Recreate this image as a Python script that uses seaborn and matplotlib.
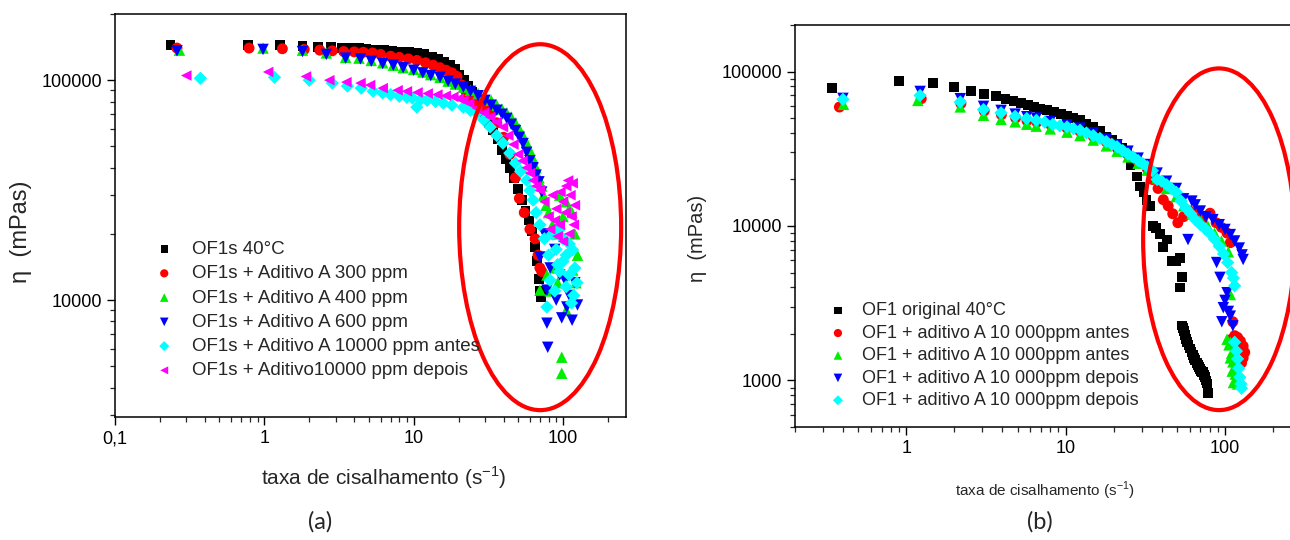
import matplotlib
matplotlib.use("Agg")
import matplotlib.pyplot as plt
import seaborn as sns
from matplotlib.patches import Ellipse
from matplotlib.ticker import FixedLocator, FixedFormatter, LogLocator, NullFormatter

# ---------------- data : panel (a) ----------------
a_black_x = [0.235, 0.78, 1.28, 1.8, 2.3, 2.8, 3.3, 3.8, 4.3, 4.8,
             5.5, 6.3, 7.2, 8.2, 9.3, 10.5, 11.8, 13.2, 14.6, 16.0,
             17.4, 18.8, 20.2, 21.6, 23.0, 24.6, 26.2, 28.0, 30.0, 32.0,
             34.0, 36.5, 39.0, 41.5, 44.0, 47.0, 50.0, 53.0, 56.0, 59.0,
             62.0, 65.0, 67.0, 69.0, 70.0, 71.0]
a_black_y = [144000, 144000, 144000, 143000, 142000, 141000, 140500, 140000, 139500, 139000,
             138000, 137000, 136000, 135000, 134000, 133000, 131000, 128000, 125000, 121000,
             117000, 112000, 106000, 100000, 94000, 88000, 82000, 76000, 70000, 64000,
             59000, 54000, 48000, 44000, 40000, 36000, 32000, 28500, 25500, 23000,
             20500, 17500, 15000, 12500, 11000, 10300]

a_red_x = [0.26, 0.79, 1.32, 1.85, 2.35, 2.85, 3.4, 4.0, 4.6, 5.3,
           6.0, 7.0, 8.0, 9.2, 10.5, 12.0, 13.5, 15.0, 16.5, 18.0,
           19.5, 21.0, 22.5, 24.0, 26.0, 28.0, 30.5, 33.0, 36.0, 40.0,
           44.0, 48.0, 51.0, 55.0, 60.0, 65.0, 68.0, 70.0, 72.0]
a_red_y = [140000, 140000, 139000, 138000, 137000, 136000, 135000, 134500, 134000, 133000,
           131000, 128500, 127000, 125000, 123000, 120000, 117000, 114000, 111000, 108000,
           104000, 95000, 88000, 83000, 80000, 78000, 75000, 71000, 64000, 55000,
           46000, 36000, 29000, 25000, 21000, 19000, 16000, 14000, 13500]

a_green_x = [0.27, 0.98, 1.8, 2.6, 3.5, 4.3, 5.2, 6.2, 7.3, 8.5,
             10.0, 11.5, 13.0, 15.0, 17.0, 19.0, 21.5, 24.0, 27.0, 30.0,
             33.0, 36.0, 39.0, 42.0, 45.0, 48.0, 51.0, 54.0, 57.0, 60.0,
             63.0, 66.0, 69.0, 72.0, 74.0, 77.0,
             80, 85, 90, 95, 100, 105, 110, 115, 120, 125,
             78, 82, 88, 92, 98, 98, 70, 116, 105, 122]
a_green_y = [137000, 140000, 137000, 133000, 127000, 126000, 123000, 120000, 117000, 114000,
             112000, 109000, 106000, 103000, 99000, 96000, 93000, 90000, 87000, 84500,
             81000, 77000, 74000, 71000, 68000, 64000, 60000, 56000, 52000, 48000,
             44000, 40000, 36000, 33000, 30000, 27000,
             25000, 22000, 20000, 30000, 24000, 28000, 26000, 25000, 20000, 16000,
             13000, 11000, 14000, 12000, 5500, 4650, 11100, 13700, 9000, 12000]

a_blue_x = [0.26, 0.98, 1.8, 2.6, 3.5, 4.4, 5.2, 6.2, 7.3, 8.5,
            10.0, 11.5, 13.0, 15.0, 17.0, 19.0, 21.5, 24.0, 27.0, 30.0,
            33.0, 36.0, 39.0, 42.0, 45.0, 48.0, 51.0, 54.0, 57.0, 60.0,
            63.0, 66.0, 69.0, 72.0,
            70, 75, 78, 82, 88, 95, 103, 106, 98, 115,
            78, 79, 110, 120, 125, 90]
a_blue_y = [136000, 138000, 135000, 131000, 126000, 125000, 122000, 119000, 117000, 114000,
            111000, 108000, 105000, 103000, 99000, 96000, 93000, 89000, 85000, 81000,
            77000, 73000, 70000, 67000, 63000, 59000, 55000, 51500, 47000, 43000,
            40000, 37000, 34500, 31000,
            15700, 20000, 11100, 14000, 17000, 13000, 12300, 9300, 8300, 8100,
            7850, 6100, 10500, 12000, 9500, 10000]

a_cyan_x = [0.373, 1.17, 2.0, 2.85, 3.6, 4.45, 5.35, 6.2, 7.0, 8.0,
            9.0, 9.8, 10.5, 11.2, 12.3, 14.0, 15.8, 18.0, 21.5, 24.0,
            26.6, 29.5, 32.5, 36.0, 39.6, 44.0, 48.0, 52.0, 57.0, 60.0,
            63.0, 66.0,
            70, 75, 80, 85, 90, 95, 100, 105, 110, 116,
            120, 124, 78, 82, 88, 95, 105, 114, 100, 92,
            110, 118]
a_cyan_y = [102000, 103000, 100000, 97000, 94000, 92000, 89000, 87500, 86000, 84500,
            83500, 83000, 75400, 82000, 81000, 80000, 78600, 77000, 75400, 73000,
            70800, 66000, 61200, 56000, 51700, 46600, 42000, 38500, 35100, 31500,
            28500, 25000,
            22000, 19000, 16000, 20000, 17000, 21000, 19000, 16000, 18000, 16900,
            14000, 12000, 9300, 12300, 11000, 13500, 11500, 9700, 15000, 14500,
            13000, 10500]

a_mag_x = [0.30, 1.06, 1.9, 2.72, 3.54, 4.4, 5.1, 6.2, 7.8, 9.0,
           10.6, 12.4, 14.4, 16.4, 18.4, 20.0, 21.5, 23.5, 26.5, 29.5,
           32.5, 36.0, 39.6, 43.0, 46.5, 50.0, 53.5, 57.0, 60.0, 63.0,
           66.0, 70.0,
           75, 80, 85, 90, 95, 100, 105, 108, 112, 116,
           120, 118, 110, 100, 92, 88, 82, 96, 104, 114]
a_mag_y = [105000, 109000, 104000, 100000, 98000, 97000, 95000, 92000, 90000, 89000,
           88000, 87000, 86000, 85000, 84000, 82500, 81000, 78500, 74600, 71000,
           67900, 64500, 61200, 56000, 51000, 46000, 43000, 40000, 37800, 35000,
           33000, 31600,
           28000, 24000, 30000, 26000, 22000, 28000, 33000, 35000, 30000, 34000,
           27000, 22000, 20000, 18500, 19500, 23000, 21000, 31000, 25000, 24000]

a_labels = ["OF1s 40°C", "OF1s + Aditivo A 300 ppm", "OF1s + Aditivo A 400 ppm",
            "OF1s + Aditivo A 600 ppm", "OF1s + Aditivo A 10000 ppm antes",
            "OF1s + Aditivo10000 ppm depois"]

# ---------------- data : panel (b) ----------------
b_black_x = [0.342, 0.895, 1.47, 2.0, 2.56, 3.08, 3.67, 4.19, 4.71, 5.26,
             5.77, 6.3, 6.9, 7.6, 8.4, 9.3, 10.2, 11.2, 12.3, 13.5,
             14.9, 16.4, 18.0, 19.5, 20.9, 22.5, 24.2, 25.5, 26.5, 27.9,
             29.3, 30.8, 32.2, 33.9, 35.5, 37.0, 39.0, 40.7, 43.0, 46.4,
             49.0, 52.0, 53.5, 52.5, 53.5, 54.2, 55.0, 56.0, 57.2, 58.0,
             59.0, 60.3, 61.6, 62.8, 64.0, 65.2, 66.5, 67.8, 69.0, 70.0,
             71.0, 72.0, 73.0, 74.0, 75.0, 76.0, 76.7, 77.6, 78.6]
b_black_y = [78500, 86600, 84000, 79000, 74700, 71900, 69000, 66700, 64400, 62500,
             60700, 59000, 57500, 56000, 54700, 53000, 51300, 49800, 48300, 46000,
             43800, 41000, 37700, 36000, 34200, 32000, 30200, 24800, 26700, 20900,
             18000, 16500, 14800, 13400, 10000, 9700, 8900, 7300, 8170, 5900,
             5900, 6200, 4650, 4000, 2270, 2180, 2100, 1980, 1850, 1780,
             1700, 1610, 1520, 1460, 1400, 1350, 1300, 1260, 1220, 1190,
             1150, 1140, 1130, 1090, 1050, 1000, 955, 890, 830]

b_red_x = [0.38, 1.24, 2.2, 3.08, 3.95, 4.85, 5.72, 6.6, 8.0, 10.2,
           12.3, 14.9, 18.0, 21.0, 24.6, 28.5, 32.5, 35.0, 38.0, 41.0,
           44.0, 47.0, 50.6, 55.0, 60.0, 66.0, 72.0, 80.5, 88.0, 95.0,
           103.0, 108.0, 112.0, 110.0, 115.0, 120.0, 125.0, 130.0, 133.0, 130.0,
           127.0]
b_red_y = [58900, 66700, 62000, 55500, 52500, 50000, 48000, 47000, 45500, 43000,
           41000, 38000, 35000, 32000, 29000, 26000, 23500, 20000, 17500, 14800,
           13500, 12000, 10500, 11500, 12500, 12100, 11000, 12100, 10500, 9800,
           9000, 7800, 2400, 1850, 1950, 1900, 1800, 1670, 1520, 1400,
           1300]

b_green_x = [0.403, 1.18, 2.18, 3.05, 3.93, 4.82, 5.7, 6.53, 8.0, 10.2,
             12.3, 14.9, 18.0, 21.0, 24.6, 28.5, 32.5, 37.5, 43.0, 49.4,
             55.0, 62.0, 70.0, 78.0, 86.0, 95.0, 105.0, 103.0, 106.0, 108.0,
             110.0, 112.0, 114.0, 116.0, 118.0, 120.0, 108.0, 111.0, 113.0, 108.0]
b_green_y = [61300, 65000, 59000, 52100, 49000, 47200, 45600, 44300, 42500, 40500,
             38500, 36000, 33000, 30500, 28000, 25500, 23000, 20500, 17500, 15500,
             13500, 12000, 11000, 10000, 9000, 8000, 6800, 1850, 1700, 1770,
             1500, 1320, 1200, 1100, 1000, 950, 1400, 1150, 970, 3600]

b_blue_x = [0.40, 1.22, 2.18, 3.05, 3.93, 4.82, 5.7, 6.55, 8.0, 10.2,
            12.3, 14.9, 18.0, 21.0, 24.6, 28.5, 32.5, 37.5, 43.0, 49.5,
            55.0, 58.6, 62.0, 65.0, 70.0, 76.0, 84.0, 92.0, 100.0, 108.0,
            115.0, 123.0, 128.0, 130.0, 88.6, 93.0, 97.6, 103.0, 95.5, 108.0,
            100.0, 105.0, 112.0]
b_blue_y = [67000, 74300, 66700, 59500, 56000, 53000, 51000, 50000, 47500, 45000,
            43000, 40000, 36500, 33500, 30500, 27500, 25000, 22000, 19500, 17500,
            15000, 8170, 14500, 13700, 12500, 11500, 11000, 10200, 9500, 8800,
            8000, 7200, 6500, 6070, 5800, 4650, 2960, 3700, 2400, 2610,
            3300, 2800, 2260]

b_cyan_x = [0.40, 1.22, 2.18, 3.05, 3.93, 4.82, 5.7, 6.55, 7.4, 8.3,
            9.2, 10.2, 11.2, 12.3, 13.5, 14.9, 16.4, 18.0, 19.5, 21.0,
            22.8, 24.6, 26.5, 28.5, 30.5, 32.5, 35.0, 37.5, 40.0, 43.0,
            46.0, 49.5, 53.0, 57.0, 61.0, 65.0, 70.0, 75.0, 80.0, 86.0,
            92.0, 98.0, 104.0, 110.0, 113.0, 115.0, 115.0, 118.0, 120.0, 122.0,
            124.0, 126.0, 127.0]
b_cyan_y = [66000, 70000, 63500, 56700, 54000, 51300, 49600, 48300, 47000, 45500,
            44500, 43800, 42700, 41700, 40000, 38500, 36900, 35200, 33800, 32600,
            30800, 29200, 28000, 26500, 25300, 24200, 22800, 20000, 19500, 18500,
            17500, 16500, 14500, 13000, 12000, 11000, 10200, 9600, 9000, 8200,
            7400, 6600, 5800, 5000, 4600, 4100, 1770, 1550, 1380, 1200,
            1050, 950, 890]

b_labels = ["OF1 original 40°C", "OF1 + aditivo A 10 000ppm antes",
            "OF1 + aditivo A 10 000ppm antes", "OF1 + aditivo A 10 000ppm depois",
            "OF1 + aditivo A 10 000ppm depois"]

a_xticks = [0.1, 1, 10, 100]
a_xticklabels = ["0,1", "1", "10", "100"]
a_yticks = [10000, 100000]
b_xticks = [1, 10, 100]
b_yticks = [1000, 10000, 100000]

# ---------------- style ----------------
sns.set_theme(style="ticks")
plt.rcParams["font.family"] = ["Liberation Sans", "DejaVu Sans"]
plt.rcParams["axes.linewidth"] = 1.1

W, H = 1290, 540
fig = plt.figure(figsize=(W / 100, H / 100), dpi=100)
ax1 = fig.add_axes([115 / W, 1 - 417 / H, 511 / W, 403 / H])
ax2 = fig.add_axes([795 / W, 1 - 427 / H, 506 / W, 402 / H])

styles = [("s", "#000000", 50), ("o", "#ff0000", 62), ("^", "#00ee00", 68),
          ("v", "#0000ff", 68), ("D", "#00ffff", 46), ("<", "#ff00ff", 58)]

a_series = [(a_black_x, a_black_y), (a_red_x, a_red_y), (a_green_x, a_green_y),
            (a_blue_x, a_blue_y), (a_cyan_x, a_cyan_y), (a_mag_x, a_mag_y)]
b_series = [(b_black_x, b_black_y), (b_red_x, b_red_y), (b_green_x, b_green_y),
            (b_blue_x, b_blue_y), (b_cyan_x, b_cyan_y)]

for (xs, ys), lab, (m, c, s) in zip(a_series, a_labels, styles):
    sns.scatterplot(x=xs, y=ys, ax=ax1, marker=m, color=c, s=s,
                    linewidth=0, edgecolor="none", label=lab)
for (xs, ys), lab, (m, c, s) in zip(b_series, b_labels, styles):
    sns.scatterplot(x=xs, y=ys, ax=ax2, marker=m, color=c, s=s,
                    linewidth=0, edgecolor="none", label=lab)

for ax in (ax1, ax2):
    ax.set_xscale("log")
    ax.set_yscale("log")
    for sp in ax.spines.values():
        sp.set_visible(True)
        sp.set_color("black")
        sp.set_linewidth(1.1)
    ax.tick_params(which="major", direction="out", length=6, width=1.0,
                   labelsize=13, colors="black", top=False, right=False)
    ax.tick_params(which="minor", direction="out", length=3.5, width=0.9,
                   top=False, right=False)
    ax.xaxis.set_minor_locator(LogLocator(base=10, subs=range(2, 10), numticks=20))
    ax.yaxis.set_minor_locator(LogLocator(base=10, subs=range(2, 10), numticks=20))
    ax.xaxis.set_minor_formatter(NullFormatter())
    ax.yaxis.set_minor_formatter(NullFormatter())

ax1.set_xlim(0.1, 264)
ax1.set_ylim(2940, 200000)
ax1.xaxis.set_major_locator(FixedLocator(a_xticks))
ax1.xaxis.set_major_formatter(FixedFormatter(a_xticklabels))
ax1.yaxis.set_major_locator(FixedLocator(a_yticks))
ax1.yaxis.set_major_formatter(FixedFormatter([str(v) for v in a_yticks]))

ax2.set_xlim(0.2, 300)
ax2.set_ylim(500, 200000)
ax2.xaxis.set_major_locator(FixedLocator(b_xticks))
ax2.xaxis.set_major_formatter(FixedFormatter([str(v) for v in b_xticks]))
ax2.yaxis.set_major_locator(FixedLocator(b_yticks))
ax2.yaxis.set_major_formatter(FixedFormatter([str(v) for v in b_yticks]))

# labels
ax1.set_xlabel("taxa de cisalhamento (s$^{\\mathregular{-1}}$)", fontsize=15)
ax1.xaxis.set_label_coords(0.526, -0.118)
ax1.set_ylabel("η  (mPas)", fontsize=17)
ax1.yaxis.set_label_coords(-0.162, 0.46)

ax2.set_xlabel("taxa de cisalhamento (s$^{\\mathregular{-1}}$)", fontsize=11)
ax2.xaxis.set_label_coords(0.494, -0.13)
ax2.set_ylabel("η  (mPas)", fontsize=14.5)
ax2.yaxis.set_label_coords(-0.174, 0.47)

# legends
ax1.legend(loc="upper left", bbox_to_anchor=(0.078, 0.437), frameon=False,
           fontsize=13.5, handlelength=1.0, handletextpad=1.0, labelspacing=0.38,
           borderpad=0, borderaxespad=0, markerscale=0.75)
ax2.legend(loc="upper left", bbox_to_anchor=(0.067, 0.310), frameon=False,
           fontsize=13, handlelength=1.0, handletextpad=0.85, labelspacing=0.3,
           borderpad=0, borderaxespad=0, markerscale=0.75)

# highlight ellipses
ax1.add_patch(Ellipse((0.832, 0.471), 0.317, 0.908, transform=ax1.transAxes,
                      fill=False, edgecolor="#ff0000", linewidth=3.0, clip_on=False, zorder=5))
ax2.add_patch(Ellipse((0.838, 0.467), 0.300, 0.850, transform=ax2.transAxes,
                      fill=False, edgecolor="#ff0000", linewidth=3.0, clip_on=False, zorder=5))

fig.text(320 / W, 1 - 522 / H, "(a)", ha="center", va="center", fontsize=17,
         family=["Lato", "DejaVu Sans"])
fig.text(1040 / W, 1 - 522 / H, "(b)", ha="center", va="center", fontsize=17,
         family=["Lato", "DejaVu Sans"])

fig.savefig("out.png", dpi=100)
